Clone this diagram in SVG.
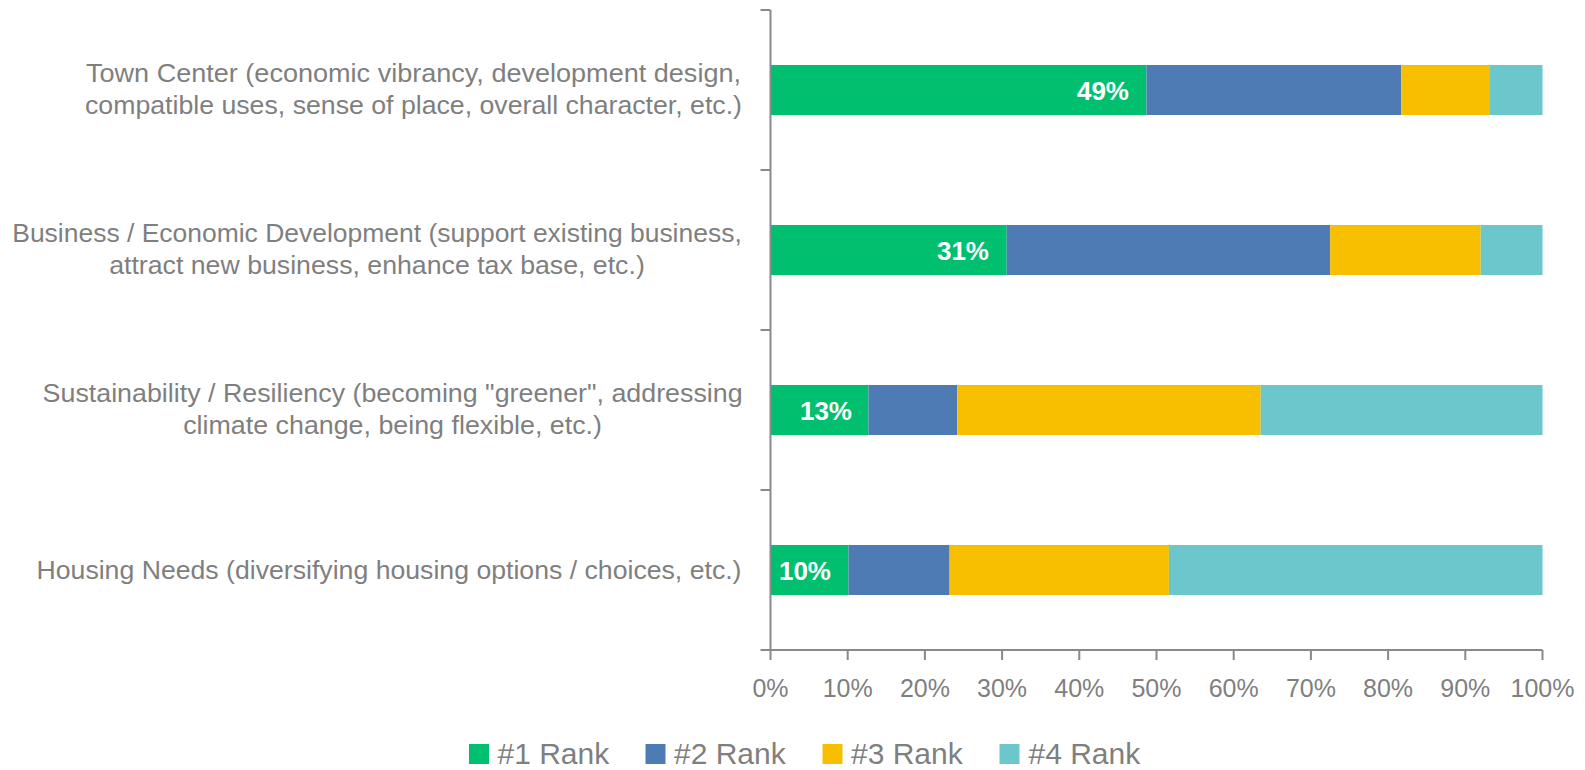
<svg xmlns="http://www.w3.org/2000/svg" width="1585" height="770" viewBox="0 0 1585 770">
<style>
  .cat { font-family: "Liberation Sans", Arial, sans-serif; font-size: 25px; fill: #7f7f7f; text-anchor: middle; }
  .tick { font-family: "Liberation Sans", Arial, sans-serif; font-size: 25px; fill: #7f7f7f; text-anchor: middle; }
  .leg { font-family: "Liberation Sans", Arial, sans-serif; font-size: 30px; fill: #7f7f7f; }
  .val { font-family: "Liberation Sans", Arial, sans-serif; font-size: 26px; font-weight: bold; fill: #ffffff; text-anchor: end; }
  .r1 { fill: #00BF6F; }
  .r2 { fill: #4F7BB4; }
  .r3 { fill: #F8BF00; }
  .r4 { fill: #6BC7CB; }
  .ax { stroke: #898989; stroke-width: 2; fill: none; }
</style>
<rect width="1585" height="770" fill="#ffffff"/>

<g id="cat-town-center">
  <text class="cat" x="413.5" y="82" textLength="655" lengthAdjust="spacingAndGlyphs">Town Center (economic vibrancy, development design,</text>
  <text class="cat" x="413.5" y="114" textLength="657" lengthAdjust="spacingAndGlyphs">compatible uses, sense of place, overall character, etc.)</text>
  <rect class="r1" x="770.5" y="65" width="376" height="50"/>
  <rect class="r2" x="1146.5" y="65" width="254.7" height="50"/>
  <rect class="r3" x="1401.2" y="65" width="88" height="50"/>
  <rect class="r4" x="1489.2" y="65" width="53.3" height="50"/>
  <text class="val" x="1129" y="100">49%</text>
</g>

<g id="cat-business">
  <text class="cat" x="377" y="242" textLength="729.5" lengthAdjust="spacingAndGlyphs">Business / Economic Development (support existing business,</text>
  <text class="cat" x="377" y="274" textLength="535.6" lengthAdjust="spacingAndGlyphs">attract new business, enhance tax base, etc.)</text>
  <rect class="r1" x="770.5" y="225" width="236.2" height="50"/>
  <rect class="r2" x="1006.7" y="225" width="323.5" height="50"/>
  <rect class="r3" x="1330.2" y="225" width="150.5" height="50"/>
  <rect class="r4" x="1480.7" y="225" width="61.8" height="50"/>
  <text class="val" x="989" y="260">31%</text>
</g>

<g id="cat-sustainability">
  <text class="cat" x="392.6" y="402" textLength="700" lengthAdjust="spacingAndGlyphs">Sustainability / Resiliency (becoming "greener", addressing</text>
  <text class="cat" x="392.6" y="434" textLength="418.8" lengthAdjust="spacingAndGlyphs">climate change, being flexible, etc.)</text>
  <rect class="r1" x="770.5" y="385" width="98" height="50"/>
  <rect class="r2" x="868.5" y="385" width="88.8" height="50"/>
  <rect class="r3" x="957.3" y="385" width="303.4" height="50"/>
  <rect class="r4" x="1260.7" y="385" width="281.8" height="50"/>
  <text class="val" x="852" y="420">13%</text>
</g>

<g id="cat-housing">
  <text class="cat" x="389" y="579" textLength="705" lengthAdjust="spacingAndGlyphs">Housing Needs (diversifying housing options / choices, etc.)</text>
  <rect class="r1" x="770.5" y="545" width="78" height="50"/>
  <rect class="r2" x="848.5" y="545" width="101.1" height="50"/>
  <rect class="r3" x="949.6" y="545" width="219.3" height="50"/>
  <rect class="r4" x="1168.9" y="545" width="373.6" height="50"/>
  <text class="val" x="831" y="580">10%</text>
</g>

<g id="axes">
  <path class="ax" d="M770.5 10 V650 H1542.5"/>
  <path class="ax" d="M760.5 10 H770.5 M760.5 170 H770.5 M760.5 330 H770.5 M760.5 490 H770.5 M760.5 650 H770.5"/>
  <path class="ax" d="M770.5 650 V660 M847.7 650 V660 M924.9 650 V660 M1002.1 650 V660 M1079.3 650 V660 M1156.5 650 V660 M1233.7 650 V660 M1310.9 650 V660 M1388.1 650 V660 M1465.3 650 V660 M1542.5 650 V660"/>
  <text class="tick" x="770.5" y="697">0%</text>
  <text class="tick" x="847.7" y="697">10%</text>
  <text class="tick" x="924.9" y="697">20%</text>
  <text class="tick" x="1002.1" y="697">30%</text>
  <text class="tick" x="1079.3" y="697">40%</text>
  <text class="tick" x="1156.5" y="697">50%</text>
  <text class="tick" x="1233.7" y="697">60%</text>
  <text class="tick" x="1310.9" y="697">70%</text>
  <text class="tick" x="1388.1" y="697">80%</text>
  <text class="tick" x="1465.3" y="697">90%</text>
  <text class="tick" x="1542.5" y="697">100%</text>
</g>

<g id="legend">
  <rect class="r1" x="469" y="744" width="20" height="20"/>
  <text class="leg" x="497.5" y="764">#1 Rank</text>
  <rect class="r2" x="645.5" y="744" width="20" height="20"/>
  <text class="leg" x="674" y="764">#2 Rank</text>
  <rect class="r3" x="822.5" y="744" width="20" height="20"/>
  <text class="leg" x="851" y="764">#3 Rank</text>
  <rect class="r4" x="999.5" y="744" width="20" height="20"/>
  <text class="leg" x="1028.5" y="764">#4 Rank</text>
</g>
</svg>
